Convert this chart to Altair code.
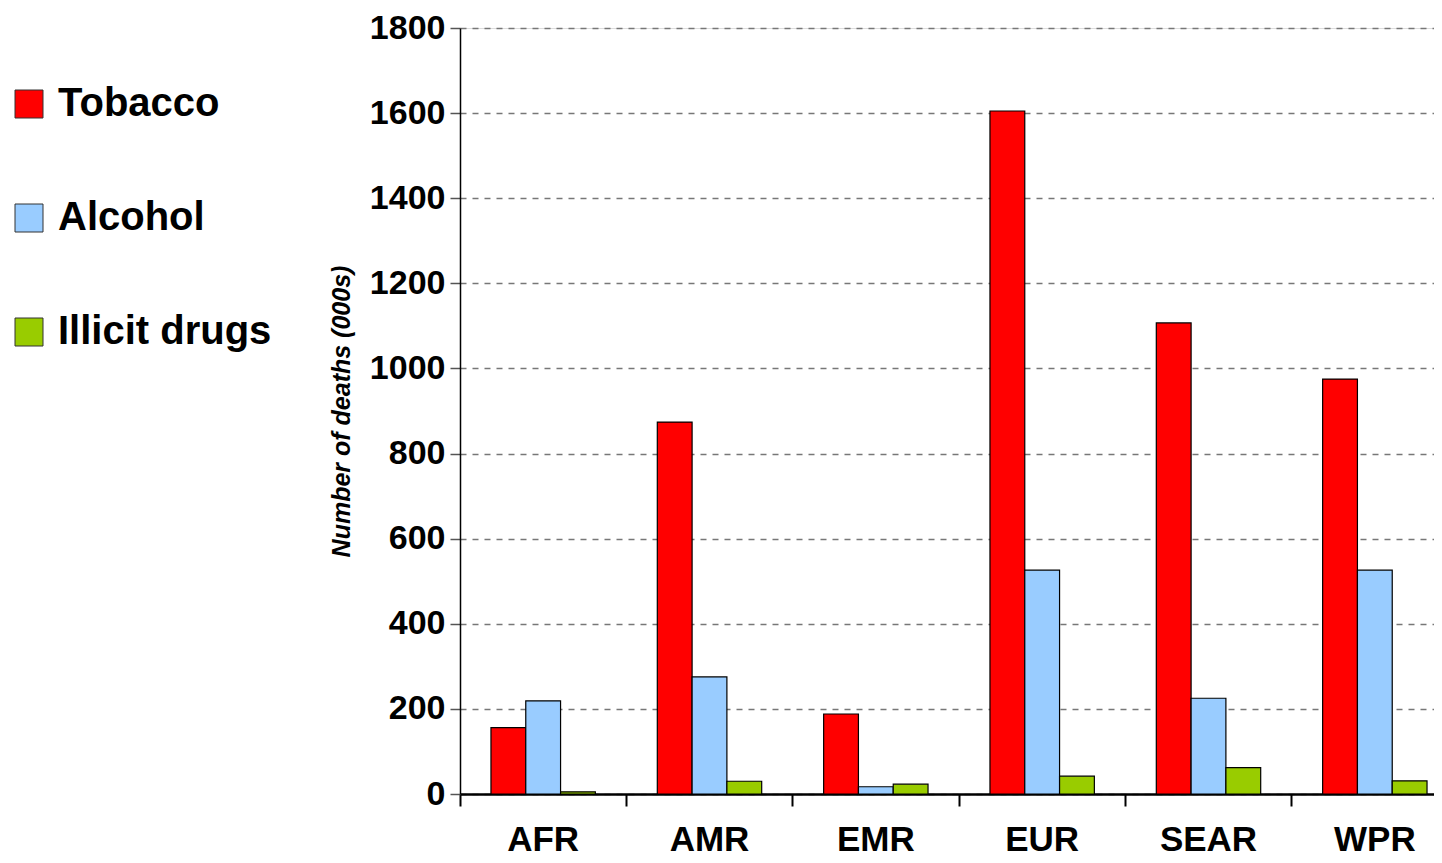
import altair as alt
import pandas as pd

regions = ["AFR", "AMR", "EMR", "EUR", "SEAR", "WPR"]
substances = ["Tobacco", "Alcohol", "Illicit drugs"]
tobacco = [156, 874, 188, 1605, 1107, 975]
alcohol = [219, 275, 17, 526, 225, 526]
drugs = [5, 30, 23, 42, 62, 31]
colors = ["#FF0000", "#99CCFF", "#99CC00"]
y_ticks = [0, 200, 400, 600, 800, 1000, 1200, 1400, 1600, 1800]

rows = []
for i, r in enumerate(regions):
    for s, vals in zip(substances, [tobacco, alcohol, drugs]):
        rows.append({"region": r, "substance": s, "deaths": vals[i]})
df = pd.DataFrame(rows)

FONT = "Liberation Sans"

chart = alt.Chart(df).mark_bar(stroke="#000000", strokeWidth=1.2).encode(
    x=alt.X("region:N", sort=regions,
            scale=alt.Scale(paddingInner=0, paddingOuter=0, range=[0, 998]),
            axis=alt.Axis(title=None, labelAngle=0, bandPosition=0,
                          labelFont=FONT, labelFontSize=35, labelFontWeight="bold",
                          labelColor="#000000", labelPadding=16, labelBaseline="top",
                          domainColor="#000000", domainWidth=2.5,
                          tickColor="#000000", tickWidth=2, tickSize=12, grid=False)),
    xOffset=alt.XOffset("substance:N", sort=substances,
                        scale=alt.Scale(paddingOuter=0.89, paddingInner=0)),
    y=alt.Y("deaths:Q",
            scale=alt.Scale(domain=[0, 1800], nice=False),
            axis=alt.Axis(title="Number of deaths (000s)", values=y_ticks, format="d",
                          labelFont=FONT, labelFontSize=34, labelFontWeight="bold",
                          labelColor="#000000", labelPadding=5,
                          titleFont=FONT, titleFontSize=25, titleFontWeight="bold",
                          titleFontStyle="italic", titleColor="#000000", titlePadding=15,
                          domainColor="#000000", domainWidth=1.5,
                          tickColor="#555555", tickWidth=1.5, tickSize=10,
                          grid=True, gridColor="#777777", gridDash=[6, 6], gridWidth=1.3)),
    color=alt.Color("substance:N", sort=substances,
                    scale=alt.Scale(domain=substances, range=colors),
                    legend=alt.Legend(title=None, orient="none", legendX=-451, legendY=56,
                                      symbolType="square", symbolSize=784,
                                      symbolStrokeColor="#333333", symbolStrokeWidth=1,
                                      labelFont=FONT, labelFontSize=40, labelFontWeight="bold",
                                      labelColor="#000000", labelOffset=9, labelLimit=0,
                                      rowPadding=74, padding=0)),
).properties(
    width=974,
    height=766,
    autosize=alt.AutoSizeParams(type="none"),
    padding={"left": 452, "top": 20, "right": 0, "bottom": 64},
).configure_view(stroke=None).configure(background="#ffffff")

chart.save("out.html", embed_options={"renderer": "svg", "actions": False})
